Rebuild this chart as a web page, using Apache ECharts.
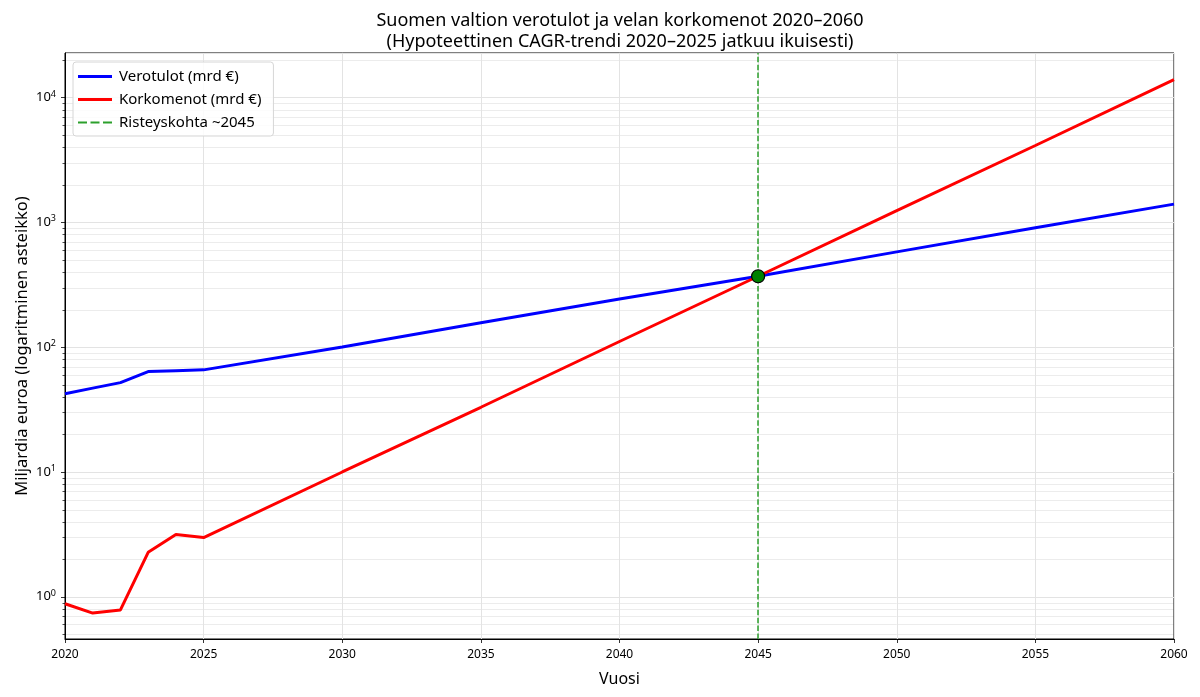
<!DOCTYPE html>
<html>
<head>
<meta charset="utf-8">
<script src="https://cdn.jsdelivr.net/npm/echarts@6/dist/echarts.min.js"></script>
<style>
html,body{margin:0;padding:0;background:#fff;}
#chart{width:1200px;height:697px;}
</style>
</head>
<body>
<div id="chart"></div>
<script>
// ---- Data ----
const years = [2020, 2021, 2022, 2023, 2024, 2025, 2030, 2035, 2040, 2045, 2050, 2055, 2060];
const verotulot = [42.4, 47, 52, 63.8, 64.8, 65.8, 100.5, 157, 243, 370, 580, 905, 1400];
const korkomenot = [0.88, 0.74, 0.785, 2.27, 3.15, 2.98, 10, 33, 111, 370, 1240, 4130, 13900];
const crossYear = 2045;
const crossValue = 370;
const titleLines = ['Suomen valtion verotulot ja velan korkomenot 2020–2060', '(Hypoteettinen CAGR-trendi 2020–2025 jatkuu ikuisesti)'];
const seriesNames = ['Verotulot (mrd €)', 'Korkomenot (mrd €)', 'Risteyskohta ~2045'];
const xName = 'Vuosi';
const yName = 'Miljardia euroa (logaritminen asteikko)';
const yMin = 0.459, yMax = 22750;

const FONT = 'Noto Sans';
const zip = (xs, ys) => xs.map((x, i) => [x, ys[i]]);

// minor log tick positions (2..9 x 10^k) inside the axis range
const minorVals = [];
for (let k = -1; k <= 4; k++) {
  for (let m = 2; m <= 9; m++) {
    const v = m * Math.pow(10, k);
    if (v > yMin && v < yMax) minorVals.push(v);
  }
}

const dashIcon = 'path://M0,0h9v2h-9z M12.5,0h9v2h-9z M25,0h9v2h-9z';

const chart = echarts.init(document.getElementById('chart'), null, {renderer: 'canvas'});
const option = {
  animation: false,
  backgroundColor: '#fff',
  textStyle: {fontFamily: FONT},
  title: {
    text: titleLines.join('\n'),
    left: 615,
    textAlign: 'center',
    top: 5,
    textStyle: {fontFamily: FONT, fontSize: 18, fontWeight: 'normal', color: '#000', lineHeight: 21}
  },
  legend: {
    data: [
      {name: seriesNames[0], icon: 'rect'},
      {name: seriesNames[1], icon: 'rect'},
      {name: seriesNames[2], icon: dashIcon}
    ],
    orient: 'vertical',
    left: 73,
    top: 62,
    backgroundColor: 'rgba(255,255,255,0.85)',
    borderColor: '#d6d6d6',
    borderWidth: 1,
    borderRadius: 3,
    padding: [7, 12, 6, 5],
    itemWidth: 34,
    itemHeight: 3,
    itemGap: 8,
    selectedMode: false,
    textStyle: {fontFamily: FONT, fontSize: 15, color: '#000', padding: [0, 0, 0, 2], lineHeight: 15}
  },
  grid: {
    left: 65, right: 26, top: 53, bottom: 58,
    show: true, borderColor: '#000', borderWidth: 1, backgroundColor: 'transparent'
  },
  xAxis: {
    type: 'value',
    min: 2020, max: 2060, interval: 5,
    name: xName,
    nameLocation: 'middle',
    nameGap: 32,
    nameTextStyle: {fontFamily: FONT, fontSize: 16, color: '#000'},
    axisLine: {show: true, lineStyle: {color: '#000', width: 1}},
    axisTick: {show: true, length: 4, lineStyle: {color: '#000', width: 0.8}},
    axisLabel: {fontFamily: FONT, fontSize: 12, color: '#000', margin: 10, formatter: v => String(v)},
    splitLine: {show: true, lineStyle: {color: '#e3e3e3', width: 1}}
  },
  yAxis: {
    type: 'log',
    logBase: 10,
    min: yMin, max: yMax,
    name: yName,
    nameLocation: 'middle',
    nameGap: 34,
    nameMoveOverlap: false,
    nameTextStyle: {fontFamily: FONT, fontSize: 16.5, color: '#000'},
    axisLine: {show: true, lineStyle: {color: '#000', width: 1}},
    axisTick: {show: true, length: 4, lineStyle: {color: '#000', width: 0.8}},
    splitLine: {show: true, lineStyle: {color: '#e3e3e3', width: 1}},
    axisLabel: {
      showMinLabel: false, showMaxLabel: false,
      margin: 9,
      fontFamily: FONT, fontSize: 13, color: '#000',
      formatter: function (v) {
        const e = Math.round(Math.log10(v));
        if (Math.abs(v - Math.pow(10, e)) / Math.pow(10, e) > 1e-6) return '';
        return '10{s|' + e + '}';
      },
      rich: {s: {fontFamily: FONT, fontSize: 9, color: '#000', verticalAlign: 'top', padding: [0, 0, 7, 0]}}
    }
  },
  series: [
    {
      name: seriesNames[0], type: 'line', data: zip(years, verotulot),
      showSymbol: false, symbol: 'none', z: 3,
      lineStyle: {color: '#0000ff', width: 3}, itemStyle: {color: '#0000ff'}
    },
    {
      name: seriesNames[1], type: 'line', data: zip(years, korkomenot),
      showSymbol: false, symbol: 'none', z: 3,
      lineStyle: {color: '#ff0000', width: 3}, itemStyle: {color: '#ff0000'}
    },
    {
      name: seriesNames[2], type: 'line', data: [], symbol: 'none', z: 4,
      lineStyle: {color: '#2ca02c', width: 1.5, type: [5.5, 2.4]}, itemStyle: {color: '#2ca02c'},
      markLine: {
        silent: true, symbol: 'none', animation: false,
        label: {show: false},
        lineStyle: {color: '#2ca02c', width: 1.5, type: [5.5, 2.4]},
        data: [{xAxis: crossYear}]
      }
    },
    {
      name: '_cross', type: 'scatter', data: [[crossYear, crossValue]], z: 6,
      symbol: 'circle', symbolSize: 13,
      itemStyle: {color: '#008000', borderColor: '#000', borderWidth: 1.2, opacity: 1}
    }
  ]
};
chart.setOption(option);

// minor grid lines and minor tick marks, placed through the library's own scales
const x0 = chart.convertToPixel({xAxisIndex: 0}, 2020);
const x1 = chart.convertToPixel({xAxisIndex: 0}, 2060);
const graphics = [];
minorVals.forEach(v => {
  const y = Math.round(chart.convertToPixel({yAxisIndex: 0}, v)) + 0.5;
  graphics.push({type: 'line', silent: true, z: -1, zlevel: 0,
    shape: {x1: x0 + 0.5, y1: y, x2: x1 - 0.5, y2: y},
    style: {stroke: '#ececec', lineWidth: 1}});
  graphics.push({type: 'line', silent: true, z: 10,
    shape: {x1: x0 - 2.5, y1: y, x2: x0, y2: y},
    style: {stroke: '#000', lineWidth: 0.7}});
});
chart.setOption({graphic: graphics});
</script>
</body>
</html>
